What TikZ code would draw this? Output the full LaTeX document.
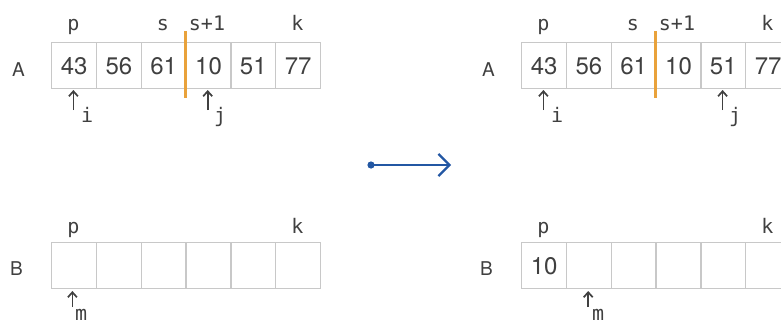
\documentclass[tikz,border=0pt]{standalone}
\usepackage{fontspec}
\setmainfont{TeX Gyre Heros}
\newfontfamily\idxfont{DejaVu Sans Mono}
\usetikzlibrary{arrows.meta}
\definecolor{ink}{HTML}{404040}
\definecolor{grid}{HTML}{C8C8C8}
\definecolor{cut}{HTML}{E9A23B}
\definecolor{flow}{HTML}{2357A3}

\begin{document}
\begin{tikzpicture}[x=1pt,y=-1pt,
  cell/.style={draw=grid, line width=1.4pt, minimum width=44.8pt, minimum height=46pt,
    inner sep=0pt, anchor=north west, text=ink, font=\fontsize{24}{24}\selectfont},
  poslabel/.style={anchor=base, text=ink, inner sep=0pt, font=\idxfont\fontsize{20}{20}\selectfont},
  rowname/.style={anchor=base, text=ink, inner sep=0pt, font=\fontsize{19}{19}\selectfont},
  idx/.style={anchor=base west, text=ink, inner sep=0pt, font=\idxfont\fontsize{20}{20}\selectfont},
  ptr/.style={draw=ink, line width=1.7pt, -{Straight Barb[length=5pt,width=9pt,line width=1.7pt]}},
  cutline/.style={draw=cut, line width=2.6pt},
  flowarrow/.style={draw=flow, line width=2.3pt, -{Straight Barb[length=11pt,width=22pt,line width=2.3pt]}}
]
\useasboundingbox (0,0) rectangle (781,324);

% ---------- left state ----------
\node[rowname] (lA) at (18.5,76) {A};
\node[rowname] (lB) at (16.5,275) {B};
\foreach \v [count=\n from 0] in {43,56,61,10,51,77}
  \node[cell] (la\n) at ({51+\n*44.8},42) {\v};
\foreach \n in {0,...,5}
  \node[cell] (lb\n) at ({51+\n*44.8},242) {};

\node[poslabel] (lp) at (73.4,30) {p};
\node[poslabel] (ls) at (162.9,30) {s};
\node[poslabel] (ls1) at (207.0,30) {s+1};
\node[poslabel] (lk) at (297.3,30) {k};
\node[poslabel] (lbp) at (73.4,233) {p};
\node[poslabel] (lbk) at (297.3,233) {k};

\coordinate (lcutT) at (185.4,31);
\coordinate (lcutB) at (185.4,98);
\draw[cutline] (lcutT) -- (lcutB);

% pointers i, j, m
\coordinate (liB) at (73.4,110); \coordinate (liT) at (73.4,90);
\draw[ptr] (liB) -- (liT);
\node[idx] (li) at (81,122.5) {i};
\coordinate (ljB) at (207.7,110); \coordinate (ljT) at (207.7,90);
\draw[ptr] (ljB) -- (ljT);
\node[idx] (lj) at (214,122.5) {j};
\coordinate (lmB) at (72.4,307); \coordinate (lmT) at (72.4,291);
\draw[ptr] (lmB) -- (lmT);
\node[idx] (lm) at (75,320) {m};

% ---------- transition ----------
\coordinate (src) at (371,165);
\coordinate (dst) at (451,165);
\fill[flow] (src) circle (3.6);
\draw[flowarrow] (src) -- (dst);

% ---------- right state ----------
\node[rowname] (rA) at (488.5,76) {A};
\node[rowname] (rB) at (486.5,275) {B};
\foreach \v [count=\n from 0] in {43,56,61,10,51,77}
  \node[cell] (ra\n) at ({521+\n*44.8},42) {\v};
\foreach \v [count=\n from 0] in {10,,,,,}
  \node[cell] (rb\n) at ({521+\n*44.8},242) {\v};

\node[poslabel] (rp) at (543.4,30) {p};
\node[poslabel] (rs) at (632.9,30) {s};
\node[poslabel] (rs1) at (677.0,30) {s+1};
\node[poslabel] (rk) at (767.3,30) {k};
\node[poslabel] (rbp) at (543.4,233) {p};
\node[poslabel] (rbk) at (767.3,233) {k};

\coordinate (rcutT) at (655.4,31);
\coordinate (rcutB) at (655.4,98);
\draw[cutline] (rcutT) -- (rcutB);

\coordinate (riB) at (543.4,110); \coordinate (riT) at (543.4,90);
\draw[ptr] (riB) -- (riT);
\node[idx] (ri) at (551,122.5) {i};
\coordinate (rjB) at (722.6,110); \coordinate (rjT) at (722.6,90);
\draw[ptr] (rjB) -- (rjT);
\node[idx] (rj) at (729,122.5) {j};
\coordinate (rmB) at (588.2,307); \coordinate (rmT) at (588.2,291);
\draw[ptr] (rmB) -- (rmT);
\node[idx] (rm) at (592,320) {m};
\end{tikzpicture}
\end{document}
